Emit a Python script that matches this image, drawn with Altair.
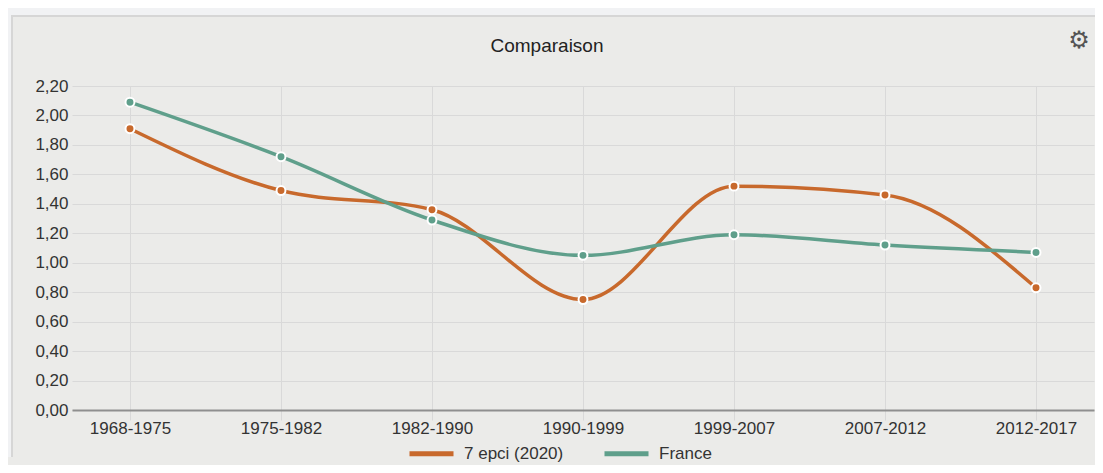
import altair as alt
import pandas as pd

periods = ["1968-1975", "1975-1982", "1982-1990", "1990-1999", "1999-2007", "2007-2012", "2012-2017"]
epci = [1.91, 1.49, 1.36, 0.75, 1.52, 1.46, 0.83]
france = [2.09, 1.72, 1.29, 1.05, 1.19, 1.12, 1.07]
series_names = ["7 epci (2020)", "France"]
series_colors = ["#c8692c", "#5f9f8b"]
y_ticks = [0, 0.2, 0.4, 0.6, 0.8, 1.0, 1.2, 1.4, 1.6, 1.8, 2.0, 2.2]
chart_title = "Comparaison"

rows = []
for p, v in zip(periods, epci):
    rows.append({"periode": p, "valeur": v, "serie": series_names[0]})
for p, v in zip(periods, france):
    rows.append({"periode": p, "valeur": v, "serie": series_names[1]})
df = pd.DataFrame(rows)

FONT = "Liberation Sans"
W, H = 1022, 324
OUTER = "#f1f2f4"
PANEL = "#ebebe9"
BORDER = "#d6d6d6"

x_enc = alt.X(
    "periode:N",
    sort=periods,
    title=None,
    scale=alt.Scale(type="point", padding=0.384),
    axis=alt.Axis(
        labelAngle=0, grid=True, gridColor="#d9d9d9", tickSize=10, tickColor="#d9d9d9",
        domainColor="#8f8f8f", domainWidth=2, labelPadding=0, labelFontSize=17,
        labelColor="#333333", labelFont=FONT,
    ),
)
y_enc = alt.Y(
    "valeur:Q",
    title=None,
    scale=alt.Scale(domain=[0, 2.2], nice=False, zero=True),
    axis=alt.Axis(
        values=y_ticks, labelExpr="replace(format(datum.value, '.2f'), '.', ',')",
        ticks=False, domain=False, grid=True, gridColor="#d9d9d9", labelPadding=4,
        labelFontSize=17, labelColor="#333333", labelFont=FONT,
    ),
)
color_scale = alt.Scale(domain=series_names, range=series_colors)

one = alt.Data(values=[{}])

top_strip = alt.Chart(one).mark_rect(fill=OUTER).encode(
    x=alt.value(-64), x2=alt.value(1023), y=alt.value(-78), y2=alt.value(-71)
)
left_strip = alt.Chart(one).mark_rect(fill=OUTER).encode(
    x=alt.value(-64), x2=alt.value(-61), y=alt.value(-78), y2=alt.value(371)
)
top_border = alt.Chart(one).mark_rule(color=BORDER, strokeWidth=2).encode(
    x=alt.value(-61), x2=alt.value(1023), y=alt.value(-70)
)
left_border = alt.Chart(one).mark_rule(color=BORDER, strokeWidth=2).encode(
    x=alt.value(-60), y=alt.value(-71), y2=alt.value(371)
)

title_text = alt.Chart(one).mark_text(
    text=chart_title, font=FONT, fontSize=19, color="#222222", align="center", baseline="middle"
).encode(x=alt.value(475), y=alt.value(-40))

gear = alt.Chart(one).mark_text(
    text="⚙", font="DejaVu Sans", fontSize=24, color="#555555", align="center", baseline="middle"
).encode(x=alt.value(1007), y=alt.value(-45))

lines = alt.Chart(df).mark_line(interpolate="monotone", strokeWidth=3.5).encode(
    x=x_enc, y=y_enc,
    color=alt.Color(
        "serie:N", scale=color_scale, title=None,
        legend=alt.Legend(
            orient="none", legendX=335, legendY=343, direction="horizontal",
            symbolType="stroke", symbolSize=1936, symbolStrokeWidth=5,
            labelFontSize=17, labelFont=FONT, labelColor="#333333",
            labelOffset=8, columnPadding=30, padding=0,
        ),
    ),
)
points = alt.Chart(df).mark_circle(size=80, stroke="white", strokeWidth=2, opacity=1).encode(
    x=x_enc, y=y_enc,
    color=alt.Color("serie:N", scale=color_scale, legend=None),
)

chart = alt.layer(top_strip, left_strip, top_border, left_border, title_text, gear, lines, points).properties(
    width=W, height=H,
    autosize=alt.AutoSizeParams(type="none"),
    padding={"left": 64, "top": 78, "right": 1, "bottom": 55},
).configure(background=PANEL).configure_view(stroke=None)

chart.save("out.html", embed_options={"renderer": "svg", "actions": False})
